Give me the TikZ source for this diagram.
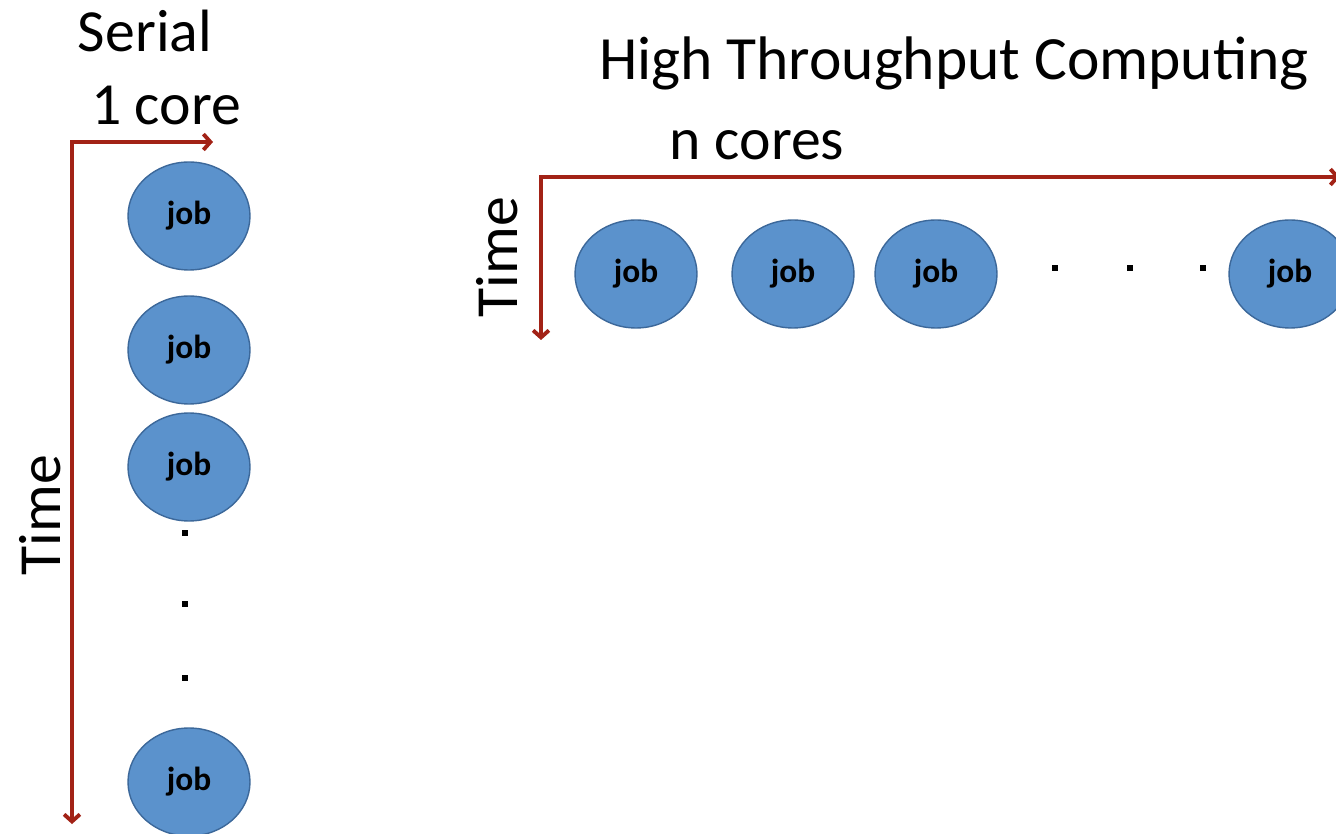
\documentclass[tikz,border=0pt]{standalone}
\usepackage{fontspec}
\setmainfont{Carlito}
\usetikzlibrary{arrows.meta,shapes.geometric,positioning}

\definecolor{jobblue}{RGB}{91,146,204}
\definecolor{jobedge}{RGB}{60,104,154}
\definecolor{axisred}{RGB}{162,34,22}

\tikzset{
  job/.style={ellipse, draw=jobedge, fill=jobblue, line width=0.8pt,
    minimum width=2.44cm, minimum height=2.16cm, inner sep=0pt,
    font=\fontsize{19}{19}\selectfont\bfseries},
  axis/.style={draw=axisred, line width=2.2pt, line join=miter,
    {Straight Barb[length=4pt,width=9pt]}-{Straight Barb[length=4pt,width=9pt]}},
  bigtext/.style={font=\fontsize{34}{34}\selectfont, inner sep=0pt},
  dotmark/.style={fill=black, inner sep=0pt, minimum size=0.13cm},
}

\begin{document}
\begin{tikzpicture}[x=0.02cm,y=-0.02cm]
\useasboundingbox (0,0) rectangle (1336,834);

% serial: one core, jobs run one after another
\node[bigtext] (serial) at (145,31) {Serial};
\node[bigtext] (onecore) at (166,105) {1 core};
\coordinate (s0) at (72,142);
\coordinate (sx) at (213,142);
\coordinate (st) at (72,824);
\draw[axis] (sx) -- (s0) -- (st);
\node[bigtext, rotate=90] (stime) at (40,515) {Time};
\node[job] (sjob1) at (189,216) {job};
\node[job] (sjob2) at (189,350) {job};
\node[job] (sjob3) at (189,467) {job};
\node[job] (sjob4) at (189,782) {job};
\foreach \y [count=\i] in {533,604,678}
  \node[dotmark] (sdot\i) at (185,\y) {};

% high throughput: n cores, jobs side by side
\node[bigtext, anchor=base, font=\fontsize{35}{35}\selectfont] (htc) at (954,80) {High Throughput Computing};
\node[bigtext, anchor=base] (ncores) at (757,160) {n cores};
\coordinate (h0) at (541,177);
\coordinate (hx) at (1340,177);
\coordinate (ht) at (541,340);
\draw[axis] (hx) -- (h0) -- (ht);
\node[bigtext, rotate=90] (htime) at (497,257) {Time};
\node[job] (hjob1) at (636,274) {job};
\node[job] (hjob2) at (793,274) {job};
\node[job] (hjob3) at (936,274) {job};
\node[job] (hjob4) at (1290,274) {job};
\foreach \x [count=\i] in {1055,1130,1203}
  \node[dotmark] (hdot\i) at (\x,268) {};
\end{tikzpicture}
\end{document}
